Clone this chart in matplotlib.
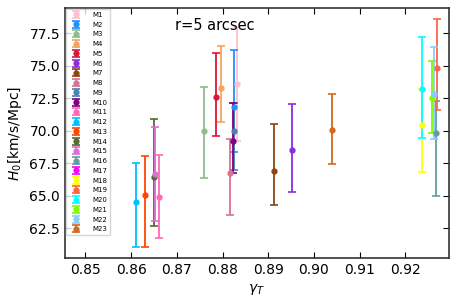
import numpy as np
import matplotlib
matplotlib.use("Agg")
import matplotlib.pyplot as plt

labels = ["M%d" % i for i in range(1, 24)]
colors = ["pink", "dodgerblue", "darkseagreen", "sandybrown", "crimson", "blueviolet",
          "saddlebrown", "palevioletred", "steelblue", "purple", "hotpink", "deepskyblue",
          "orangered", "darkolivegreen", "orchid", "cadetblue", "magenta", "yellow",
          "tomato", "cyan", "lawngreen", "lightskyblue", "chocolate"]

gamma_t = [0.8832, 0.8826, 0.8760, 0.8797, 0.8786, 0.8951, 0.8912, 0.8816, 0.8825, 0.8823,
           0.8660, 0.8610, 0.8630, 0.8651, 0.8652, 0.9267, np.nan, 0.9236, 0.9269, 0.9237,
           0.9259, 0.9262, 0.9039]
h0 = [73.58, 71.85, 69.98, 73.3, 72.6, 68.49, 66.89, 66.76, 70.0, 69.23,
      64.9, 64.5, 65.04, 66.45, 66.66, 69.8, np.nan, 70.44, 74.81, 73.24,
      72.55, 72.85, 70.03]
err_lo = [4.4, 3.47, 3.6, 2.65, 3.0, 3.2, 2.6, 3.26, 3.0, 2.52,
          3.2, 3.45, 4.0, 3.78, 3.6, 4.8, np.nan, 3.64, 3.2, 3.8,
          2.75, 3.5, 2.6]
err_hi = [4.4, 4.33, 3.37, 3.2, 3.4, 3.6, 3.6, 2.6, 2.1, 2.87,
          3.2, 2.98, 3.03, 4.43, 3.6, 2.5, np.nan, 2.8, 3.8, 4.0,
          2.8, 3.6, 2.8]

fig = plt.figure(figsize=(4.57, 3.06), dpi=100)
ax = fig.add_axes([0.142, 0.157, 0.84, 0.817])

for i in range(len(labels)):
    ax.errorbar([gamma_t[i]], [h0[i]], yerr=[[err_lo[i]], [err_hi[i]]], fmt="o",
                color=colors[i], ms=3.5, capsize=3, elinewidth=1.3, capthick=1.2,
                label=labels[i])

ax.set_xlim(0.8455, 0.9295)
ax.set_ylim(60.2, 79.45)
ax.set_xticks([0.85, 0.86, 0.87, 0.88, 0.89, 0.90, 0.91, 0.92])
ax.set_xticklabels(["0.85", "0.86", "0.87", "0.88", "0.89", "0.90", "0.91", "0.92"])
ax.set_yticks([62.5, 65.0, 67.5, 70.0, 72.5, 75.0, 77.5])
ax.tick_params(direction="in", top=True, right=True, labelsize=10, length=4)
for s in ax.spines.values():
    s.set_linewidth(1.2)
    s.set_color("#333333")

ax.set_xlabel(r"$\gamma_T$", fontsize=10)
ax.set_ylabel(r"$H_0$[km/s/Mpc]", fontsize=10)
ax.text(0.39, 0.91, "r=5 arcsec", transform=ax.transAxes, ha="center", fontsize=10.5)

ax.legend(loc="upper left", fontsize=5, labelspacing=0.54, borderaxespad=0.15,
          handlelength=2.2, handletextpad=1.2, borderpad=0.4)

fig.savefig("out.png", dpi=100)
